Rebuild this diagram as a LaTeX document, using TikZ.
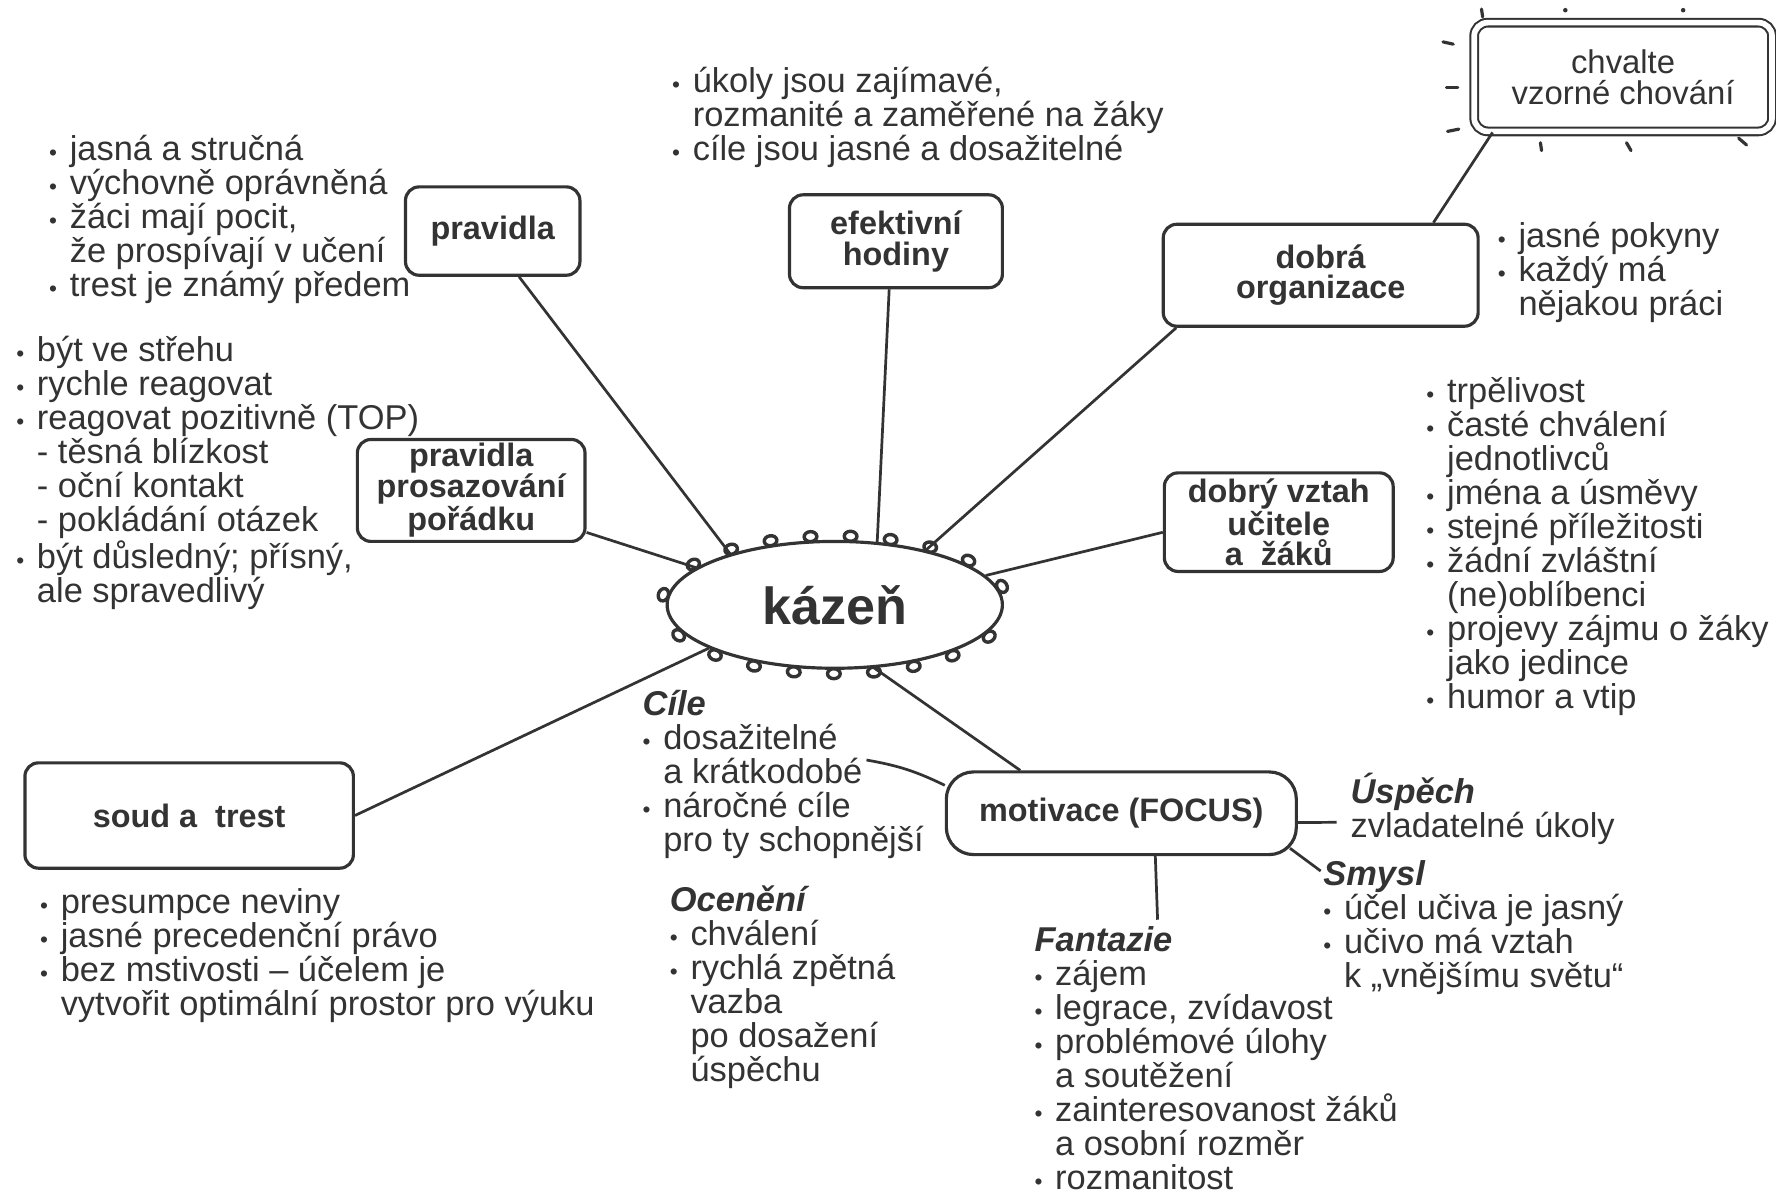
\documentclass[tikz,border=0pt]{standalone}
\usepackage{fontspec}
\setmainfont{Liberation Sans}
\usetikzlibrary{shapes.geometric,decorations.markings}
\definecolor{ink}{gray}{0.2}
\newcommand{\notefont}{\fontsize{15.2}{15}\selectfont}
\newcommand{\boxfont}{\fontsize{14.3}{13.5}\selectfont\bfseries}
\newcommand{\tstrut}{\rule{0pt}{14pt}}
\newcommand{\dotitem}{\makebox[0.6em][l]{\fontsize{10}{10}\selectfont •}}
\newcommand{\dotcont}{\hspace*{0.6em}}
\newcommand{\heading}[1]{\textbf{\textit{#1}}}
\tikzstyle{topic}=[draw=ink,line width=1.4pt,rounded corners=6pt,text=ink,font=\boxfont,align=center,inner sep=0pt]
\tikzstyle{praise}=[topic,font=\fontsize{14.5}{13.5}\selectfont,double=white,double distance=2.5pt,line width=0.9pt]
\tikzstyle{curl}=[draw=ink,line width=1.5pt]
\tikzstyle{blob}=[ellipse,draw=ink,line width=1.4pt,text=ink,font=\fontsize{23}{23}\selectfont\bfseries,
    minimum width=148pt,minimum height=56pt,
    postaction={decorate,decoration={markings,mark=between positions 0.02 and 0.99 step 17.5pt with
        {\draw[curl] (0.6pt,-2.4pt) ellipse [x radius=2.8pt,y radius=2.2pt];}}}]
\tikzstyle{link}=[draw=ink,line width=1.2pt]
\tikzstyle{notes}=[anchor=north west,inner sep=0pt,align=left,text=ink,font=\notefont]
\tikzstyle{tick}=[draw=ink,line width=1.4pt,line cap=round]
\begin{document}
\begin{tikzpicture}[x=0.5pt,y=-0.5pt]
    \useasboundingbox (0,0) rectangle (1568,1054);

    \node[blob] (kazen) at (737,534) {kázeň};

    \foreach \pos/\name/\w/\h/\label in {{(435,204)/pravidla/77/39/{pravidla}},
        {(791,213)/efektiv/94/41/{efektivní\\hodiny}},
        {(1166,243)/organiz/139/45/{dobrá\\organizace}},
        {(416,433)/prosaz/100.5/45/{pravidla\\prosazování\\pořádku}},
        {(1129,461)/vztah/101/43.5/{dobrý vztah\\učitele\\a\ \ žáků}},
        {(167,720)/soud/145/46.5/{soud a\ \ trest}}}
        \node[topic,minimum width=\w pt,minimum height=\h pt] (\name) at \pos {\label};

    \node[topic,rounded corners=12pt,minimum width=154.5pt,minimum height=36.5pt] (motiv) at (990,718) {motivace (FOCUS)};
    \node[praise,minimum width=131.5pt,minimum height=48pt] (chvalte) at (1433,68) {chvalte\\vzorné chování};

    % sparkle around the praise box
    \foreach \a/\b in {{(1308,8)}/{(1309,15)}, {(1274,37)}/{(1283,39)}, {(1277,77)}/{(1287,77)},
        {(1278,116)}/{(1288,114)}, {(1360,126)}/{(1361,133)}, {(1436,126)}/{(1440,133)},
        {(1535,122)}/{(1542,128)}}
        \draw[tick] \a -- \b;
    \fill[ink] (1382,9) circle (1pt) (1486,9) circle (1pt);

    % topics to the centre
    \foreach \source/\angle in {pravidla.-60/154, efektiv.-98/56, organiz.-160/31, prosaz.-20/165,
        vztah.185/11, soud.east/199, motiv.157/302}
        \path[link] (\source) -- (kazen.\angle);
    \path[link] (chvalte.203) -- (organiz.25);

    % motivation branches
    \coordinate (cileend) at (765,671);
    \coordinate (uspend) at (1180,726);
    \coordinate (smyslend) at (1166,769);
    \coordinate (fantend) at (1022,812);
    \path[link] (motiv.171) to[bend right=8] (cileend);
    \path[link] (motiv.-3) -- (uspend);
    \path[link] ([shift={(-3.5pt,3.5pt)}]motiv.south east) -- (smyslend);
    \path[link] ([xshift=15pt]motiv.south) -- (fantend);

    % notes
    \node[notes] (rulesnote) at (43,113) {\tstrut\dotitem jasná a stručná\\ \dotitem výchovně oprávněná\\
        \dotitem žáci mají pocit,\\ \dotcont že prospívají v učení\\ \dotitem trest je známý předem};
    \node[notes] (lessonnote) at (593,53) {\tstrut\dotitem úkoly jsou zajímavé,\\
        \dotcont rozmanité a zaměřené na žáky\\ \dotitem cíle jsou jasné a dosažitelné};
    \node[notes] (ordernote) at (14,291) {\tstrut\dotitem být ve střehu\\ \dotitem rychle reagovat\\
        \dotitem reagovat pozitivně (TOP)\\ \dotcont - těsná blízkost\\ \dotcont - oční kontakt\\
        \dotcont - pokládání otázek\\ \dotitem být důsledný; přísný,\\ \dotcont ale spravedlivý};
    \node[notes] (organote) at (1322,190) {\tstrut\dotitem jasné pokyny\\ \dotitem každý má\\ \dotcont nějakou práci};
    \node[notes] (relnote) at (1259,327) {\tstrut\dotitem trpělivost\\ \dotitem časté chválení\\
        \dotcont jednotlivců\\ \dotitem jména a úsměvy\\ \dotitem stejné příležitosti\\
        \dotitem žádní zvláštní\\ \dotcont (ne)oblíbenci\\ \dotitem projevy zájmu o žáky\\
        \dotcont jako jedince\\ \dotitem humor a vtip};
    \node[notes] (soudnote) at (35,778) {\tstrut\dotitem presumpce neviny\\ \dotitem jasné precedenční právo\\
        \dotitem bez mstivosti -- účelem je\\ \dotcont vytvořit optimální prostor pro výuku};
    \node[notes] (cile) at (567,603) {\tstrut\heading{Cíle}\\ \dotitem dosažitelné\\ \dotcont a krátkodobé\\
        \dotitem náročné cíle\\ \dotcont pro ty schopnější};
    \node[notes] (oceneni) at (591,776) {\tstrut\heading{Ocenění}\\ \dotitem chválení\\ \dotitem rychlá zpětná\\
        \dotcont vazba\\ \dotcont po dosažení\\ \dotcont úspěchu};
    \node[notes] (fantazie) at (913,812) {\tstrut\heading{Fantazie}\\ \dotitem zájem\\ \dotitem legrace, zvídavost\\
        \dotitem problémové úlohy\\ \dotcont a soutěžení\\ \dotitem zainteresovanost žáků\\
        \dotcont a osobní rozměr\\ \dotitem rozmanitost};
    \node[notes] (uspech) at (1192,681) {\tstrut\heading{Úspěch}\\ zvladatelné úkoly};
    \node[notes] (smysl) at (1168,753) {\tstrut\heading{Smysl}\\ \dotitem účel učiva je jasný\\
        \dotitem učivo má vztah\\ \dotcont k „vnějšímu světu“};
\end{tikzpicture}
\end{document}
